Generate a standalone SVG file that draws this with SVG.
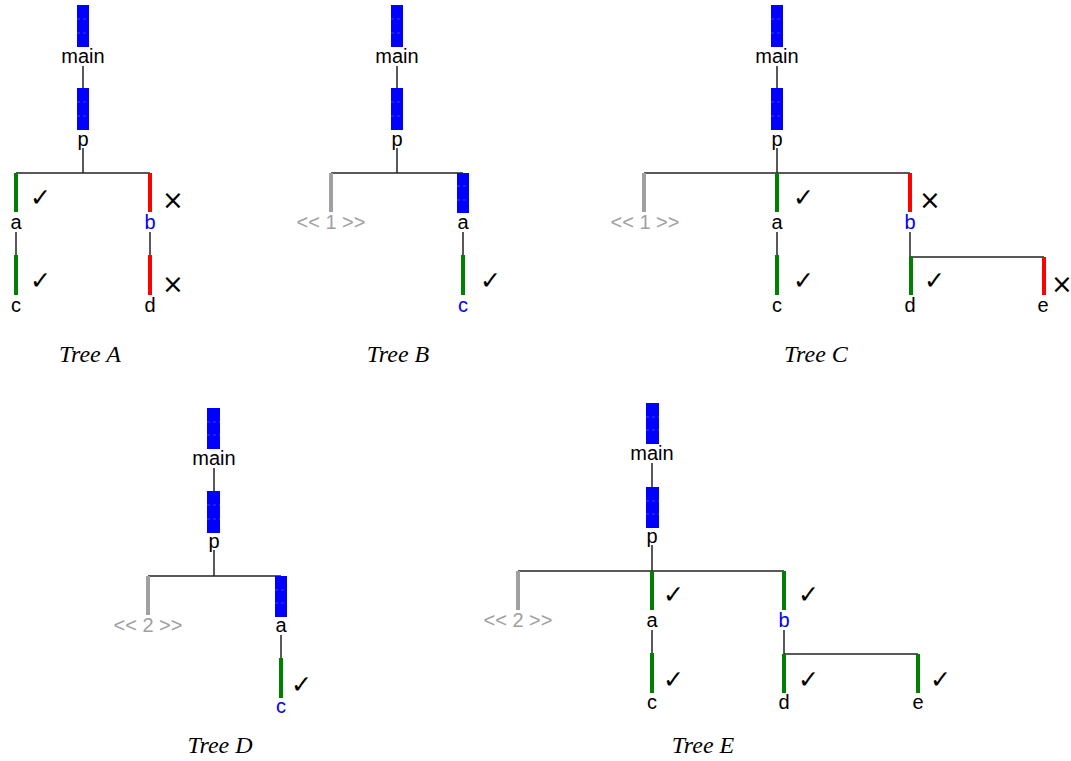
<svg xmlns="http://www.w3.org/2000/svg" width="1071" height="761" viewBox="0 0 1071 761">
<style>
.blue{fill:#0000ff}
.gr{fill:#008000}
.rd{fill:#ff0000}
.gy{fill:#a0a0a0}
.dash{stroke:#3c3cff;stroke-width:1;stroke-dasharray:3 3}
.lbl{font-family:"Liberation Sans",Arial,sans-serif;font-size:20px;fill:#000;text-anchor:middle}
.lbl.b{fill:#0000ff}
.lbl.g{fill:#a0a0a0}
.ok{font-family:"DejaVu Sans ExtraLight","DejaVu Sans",sans-serif;font-weight:200;font-size:25px;fill:#000;text-anchor:middle}
.no{font-family:"DejaVu Sans",sans-serif;font-size:26px;fill:#000;text-anchor:middle}
.cap{font-family:"Liberation Serif","Times New Roman",serif;font-style:italic;font-size:24px;fill:#000;text-anchor:middle}
#connectors line{stroke:#222;stroke-width:1.5}
</style>
<rect width="1071" height="761" fill="#fff"/>
<g id="connectors">
<line x1="83" y1="66" x2="83" y2="88"/>
<line x1="83" y1="148" x2="83" y2="173"/>
<line x1="16" y1="173" x2="150" y2="173"/>
<line x1="16" y1="232" x2="16" y2="255"/>
<line x1="150" y1="232" x2="150" y2="255"/>
<line x1="397" y1="66" x2="397" y2="88"/>
<line x1="397" y1="148" x2="397" y2="173"/>
<line x1="331" y1="173" x2="463" y2="173"/>
<line x1="463" y1="232" x2="463" y2="255"/>
<line x1="777" y1="66" x2="777" y2="88"/>
<line x1="777" y1="148" x2="777" y2="173"/>
<line x1="644" y1="173" x2="910" y2="173"/>
<line x1="777" y1="232" x2="777" y2="255"/>
<line x1="910" y1="232" x2="910" y2="257"/>
<line x1="910" y1="257" x2="1044" y2="257"/>
<line x1="214" y1="468" x2="214" y2="491"/>
<line x1="214" y1="550" x2="214" y2="576"/>
<line x1="148" y1="576" x2="281" y2="576"/>
<line x1="281" y1="635" x2="281" y2="658"/>
<line x1="652" y1="463" x2="652" y2="487"/>
<line x1="652" y1="545" x2="652" y2="571"/>
<line x1="518" y1="571" x2="784" y2="571"/>
<line x1="652" y1="630" x2="652" y2="653"/>
<line x1="784" y1="630" x2="784" y2="654"/>
<line x1="784" y1="654" x2="918" y2="654"/>
</g>

<g id="A-main"><rect class="blue" x="77" y="5" width="12" height="42"/><line class="dash" x1="77" y1="19" x2="89" y2="19"/><line class="dash" x1="77" y1="33" x2="89" y2="33"/><text class="lbl" x="83" y="63">main</text></g>
<g id="A-p"><rect class="blue" x="77" y="88" width="12" height="42"/><line class="dash" x1="77" y1="102" x2="89" y2="102"/><line class="dash" x1="77" y1="116" x2="89" y2="116"/><text class="lbl" x="83" y="146">p</text></g>
<g id="A-a"><rect class="gr" x="14" y="173" width="4" height="39"/><text class="ok" x="40" y="206">✓</text><text class="lbl" x="16" y="229">a</text></g>
<g id="A-c"><rect class="gr" x="14" y="255" width="4" height="40"/><text class="ok" x="40" y="289">✓</text><text class="lbl" x="16" y="312">c</text></g>
<g id="A-b"><rect class="rd" x="148" y="173" width="4" height="39"/><text class="no" x="173" y="209">×</text><text class="lbl b" x="150" y="229">b</text></g>
<g id="A-d"><rect class="rd" x="148" y="255" width="4" height="40"/><text class="no" x="173" y="293">×</text><text class="lbl" x="150" y="312">d</text></g>
<g id="A-caption"><text class="cap" x="90" y="362">Tree A</text></g>

<g id="B-main"><rect class="blue" x="391" y="5" width="12" height="42"/><line class="dash" x1="391" y1="19" x2="403" y2="19"/><line class="dash" x1="391" y1="33" x2="403" y2="33"/><text class="lbl" x="397" y="63">main</text></g>
<g id="B-p"><rect class="blue" x="391" y="88" width="12" height="42"/><line class="dash" x1="391" y1="102" x2="403" y2="102"/><line class="dash" x1="391" y1="116" x2="403" y2="116"/><text class="lbl" x="397" y="146">p</text></g>
<g id="B-hidden"><rect class="gy" x="329" y="173" width="4" height="39"/><text class="lbl g" x="331" y="229">&lt;&lt; 1 &gt;&gt;</text></g>
<g id="B-a"><rect class="blue" x="457" y="173" width="12" height="40"/><line class="dash" x1="457" y1="186" x2="469" y2="186"/><line class="dash" x1="457" y1="200" x2="469" y2="200"/><text class="lbl" x="463" y="229">a</text></g>
<g id="B-c"><rect class="gr" x="461" y="255" width="4" height="40"/><text class="ok" x="490" y="289">✓</text><text class="lbl b" x="463" y="312">c</text></g>
<g id="B-caption"><text class="cap" x="398" y="362">Tree B</text></g>

<g id="C-main"><rect class="blue" x="771" y="5" width="12" height="42"/><line class="dash" x1="771" y1="19" x2="783" y2="19"/><line class="dash" x1="771" y1="33" x2="783" y2="33"/><text class="lbl" x="777" y="63">main</text></g>
<g id="C-p"><rect class="blue" x="771" y="88" width="12" height="42"/><line class="dash" x1="771" y1="102" x2="783" y2="102"/><line class="dash" x1="771" y1="116" x2="783" y2="116"/><text class="lbl" x="777" y="146">p</text></g>
<g id="C-hidden"><rect class="gy" x="642" y="173" width="4" height="39"/><text class="lbl g" x="645" y="229">&lt;&lt; 1 &gt;&gt;</text></g>
<g id="C-a"><rect class="gr" x="775" y="173" width="4" height="39"/><text class="ok" x="803" y="206">✓</text><text class="lbl" x="777" y="229">a</text></g>
<g id="C-c"><rect class="gr" x="775" y="255" width="4" height="40"/><text class="ok" x="803" y="289">✓</text><text class="lbl" x="777" y="312">c</text></g>
<g id="C-b"><rect class="rd" x="908" y="173" width="4" height="39"/><text class="no" x="930" y="209">×</text><text class="lbl b" x="910" y="229">b</text></g>
<g id="C-d"><rect class="gr" x="909" y="257" width="4" height="38"/><text class="ok" x="934" y="289">✓</text><text class="lbl" x="910" y="312">d</text></g>
<g id="C-e"><rect class="rd" x="1042" y="257" width="4" height="38"/><text class="no" x="1062" y="293">×</text><text class="lbl" x="1043" y="312">e</text></g>
<g id="C-caption"><text class="cap" x="816" y="362">Tree C</text></g>

<g id="D-main"><rect class="blue" x="207" y="408" width="13" height="41"/><line class="dash" x1="207" y1="422" x2="220" y2="422"/><line class="dash" x1="207" y1="435" x2="220" y2="435"/><text class="lbl" x="214" y="465">main</text></g>
<g id="D-p"><rect class="blue" x="207" y="491" width="13" height="42"/><line class="dash" x1="207" y1="505" x2="220" y2="505"/><line class="dash" x1="207" y1="519" x2="220" y2="519"/><text class="lbl" x="214" y="548">p</text></g>
<g id="D-hidden"><rect class="gy" x="146" y="576" width="4" height="39"/><text class="lbl g" x="148" y="632">&lt;&lt; 2 &gt;&gt;</text></g>
<g id="D-a"><rect class="blue" x="275" y="576" width="12" height="41"/><line class="dash" x1="275" y1="590" x2="287" y2="590"/><line class="dash" x1="275" y1="603" x2="287" y2="603"/><text class="lbl" x="281" y="632">a</text></g>
<g id="D-c"><rect class="gr" x="279" y="658" width="4" height="40"/><text class="ok" x="301" y="693">✓</text><text class="lbl b" x="281" y="713">c</text></g>
<g id="D-caption"><text class="cap" x="220" y="753">Tree D</text></g>

<g id="E-main"><rect class="blue" x="646" y="403" width="13" height="41"/><line class="dash" x1="646" y1="417" x2="659" y2="417"/><line class="dash" x1="646" y1="430" x2="659" y2="430"/><text class="lbl" x="652" y="460">main</text></g>
<g id="E-p"><rect class="blue" x="646" y="487" width="13" height="41"/><line class="dash" x1="646" y1="501" x2="659" y2="501"/><line class="dash" x1="646" y1="514" x2="659" y2="514"/><text class="lbl" x="652" y="543">p</text></g>
<g id="E-hidden"><rect class="gy" x="516" y="571" width="4" height="39"/><text class="lbl g" x="518" y="627">&lt;&lt; 2 &gt;&gt;</text></g>
<g id="E-a"><rect class="gr" x="650" y="571" width="4" height="39"/><text class="ok" x="673" y="603">✓</text><text class="lbl" x="652" y="627">a</text></g>
<g id="E-c"><rect class="gr" x="650" y="653" width="4" height="40"/><text class="ok" x="673" y="688">✓</text><text class="lbl" x="652" y="709">c</text></g>
<g id="E-b"><rect class="gr" x="782" y="571" width="4" height="39"/><text class="ok" x="808" y="603">✓</text><text class="lbl b" x="784" y="627">b</text></g>
<g id="E-d"><rect class="gr" x="782" y="654" width="4" height="39"/><text class="ok" x="808" y="688">✓</text><text class="lbl" x="784" y="709">d</text></g>
<g id="E-e"><rect class="gr" x="916" y="654" width="4" height="39"/><text class="ok" x="940" y="688">✓</text><text class="lbl" x="918" y="709">e</text></g>
<g id="E-caption"><text class="cap" x="703" y="753">Tree E</text></g>
</svg>
